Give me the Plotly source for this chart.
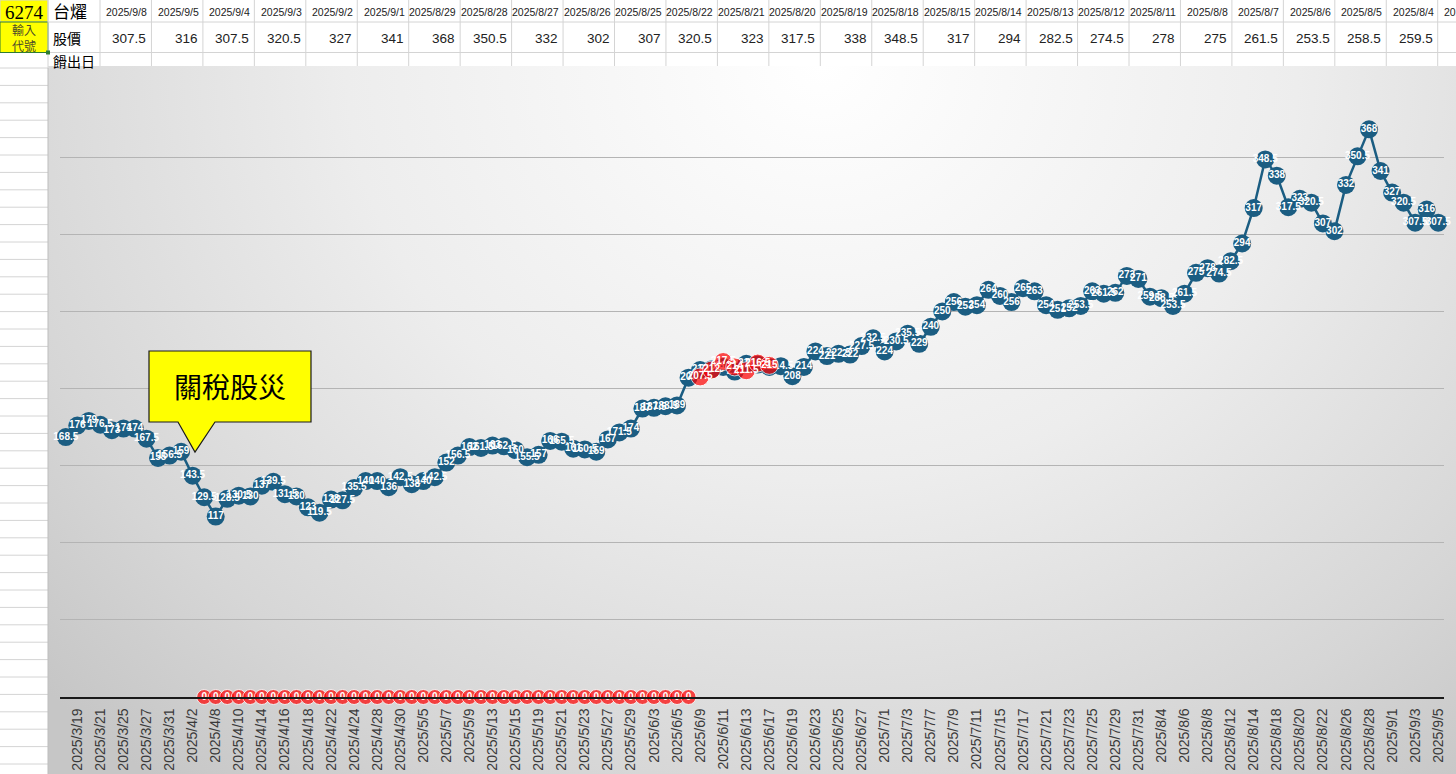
import plotly.graph_objects as go

W, H = 1456, 774

# chart categories (trading days, shown every other one)
dates = [
    "2025/3/18", "2025/3/19", "2025/3/20", "2025/3/21", "2025/3/24", "2025/3/25", "2025/3/26",
    "2025/3/27", "2025/3/28", "2025/3/31",
    "2025/4/1", "2025/4/2", "2025/4/7", "2025/4/8", "2025/4/9", "2025/4/10", "2025/4/11",
    "2025/4/14", "2025/4/15", "2025/4/16", "2025/4/17", "2025/4/18", "2025/4/21", "2025/4/22",
    "2025/4/23", "2025/4/24", "2025/4/25", "2025/4/28", "2025/4/29", "2025/4/30",
    "2025/5/2", "2025/5/5", "2025/5/6", "2025/5/7", "2025/5/8", "2025/5/9", "2025/5/12",
    "2025/5/13", "2025/5/14", "2025/5/15", "2025/5/16", "2025/5/19", "2025/5/20", "2025/5/21",
    "2025/5/22", "2025/5/23", "2025/5/26", "2025/5/27", "2025/5/28", "2025/5/29",
    "2025/6/2", "2025/6/3", "2025/6/4", "2025/6/5", "2025/6/6", "2025/6/9", "2025/6/10",
    "2025/6/11", "2025/6/12", "2025/6/13", "2025/6/16", "2025/6/17", "2025/6/18", "2025/6/19",
    "2025/6/20", "2025/6/23", "2025/6/24", "2025/6/25", "2025/6/26", "2025/6/27", "2025/6/30",
    "2025/7/1", "2025/7/2", "2025/7/3", "2025/7/4", "2025/7/7", "2025/7/8", "2025/7/9",
    "2025/7/10", "2025/7/11", "2025/7/14", "2025/7/15", "2025/7/16", "2025/7/17", "2025/7/18",
    "2025/7/21", "2025/7/22", "2025/7/23", "2025/7/24", "2025/7/25", "2025/7/28", "2025/7/29",
    "2025/7/30", "2025/7/31",
    "2025/8/1", "2025/8/4", "2025/8/5", "2025/8/6", "2025/8/7", "2025/8/8", "2025/8/11",
    "2025/8/12", "2025/8/13", "2025/8/14", "2025/8/15", "2025/8/18", "2025/8/19", "2025/8/20",
    "2025/8/21", "2025/8/22", "2025/8/25", "2025/8/26", "2025/8/27", "2025/8/28", "2025/8/29",
    "2025/9/1", "2025/9/2", "2025/9/3", "2025/9/4", "2025/9/5",
]

# closing price (blue line)
price = [
    168.5, 176, 179, 176.5, 173, 174, 174, 167.5, 155, 156.5,
    159, 143.5, 129.5, 117, 128.5, 130.5, 130, 137, 139.5, 131.5,
    130, 123, 119.5, 128, 127.5, 135.5, 140, 140, 136, 142.5,
    138, 140, 142.5, 152, 156.5, 162, 161.5, 163, 162.5, 160,
    155.5, 157, 166, 165.5, 161, 160.5, 159, 167, 171.5, 174,
    187, 187.5, 188.5, 189, 207, 212, 212.5, 214, 211, 216,
    215.5, 214, 214.5, 208, 214, 224, 221, 222.5, 222, 227.5,
    232.5, 224, 230.5, 235.5, 229, 240, 250, 256, 253, 254,
    264, 260, 256, 265, 263, 254, 251, 252, 253.5, 263,
    261.5, 262, 273, 271, 259.5, 258.5, 253.5, 261.5, 275, 278,
    274.5, 282.5, 294, 317, 348.5, 338, 317.5, 323, 320.5, 307,
    302, 332, 350.5, 368, 341, 327, 320.5, 307.5, 316, 307.5,
]

# red series: zero markers then a short run of prices
red = [None] * 12 + [0] * 43 + [207.5, 212, 217.5, 214, 211.5, 216.5, 215] + [None] * 58

# sheet table at the top
table_dates = ["2025/9/8", "2025/9/5", "2025/9/4", "2025/9/3", "2025/9/2", "2025/9/1", "2025/8/29",
               "2025/8/28", "2025/8/27", "2025/8/26", "2025/8/25", "2025/8/22", "2025/8/21",
               "2025/8/20", "2025/8/19", "2025/8/18", "2025/8/15", "2025/8/14", "2025/8/13",
               "2025/8/12", "2025/8/11", "2025/8/8", "2025/8/7", "2025/8/6", "2025/8/5",
               "2025/8/4", "2025/8/1"]
table_prices = [307.5, 316, 307.5, 320.5, 327, 341, 368, 350.5, 332, 302, 307, 320.5, 323,
                317.5, 338, 348.5, 317, 294, 282.5, 274.5, 278, 275, 261.5, 253.5, 258.5,
                259.5, 271]


def px(x):
    return x / W


def py(y):
    return 1 - y / H


BLUE = "#1B5D82"
RED = "#FF0000"

fig = go.Figure()

# radial grey background of the chart object
fig.add_trace(go.Scatter(
    x=[-0.2, 1.3, 1.3, -0.2], y=[-0.3, -0.3, 2.3, 2.3],
    fill="toself", mode="none", hoverinfo="skip", showlegend=False,
    fillgradient=dict(type="radial",
                      colorscale=[[0, "#ffffff"], [0.45, "#ededed"], [0.8, "#d6d6d6"], [1, "#c6c6c6"]]),
    xaxis="x", yaxis="y",
))

fig.add_trace(go.Scatter(
    x=dates, y=price, mode="lines+markers+text",
    line=dict(color=BLUE, width=2.5),
    marker=dict(color=BLUE, size=18),
    text=[f"{v:g}" for v in price], textposition="middle center",
    textfont=dict(color="white", size=10, family="Liberation Sans", weight="bold"),
    cliponaxis=False, showlegend=False, xaxis="x2", yaxis="y2",
))

fig.add_trace(go.Scatter(
    x=dates, y=red, mode="markers+text",
    marker=dict(color=RED, size=[15 if v == 0 else 18 for v in red]),
    text=["" if v is None else f"{v:g}" for v in red], textposition="middle center",
    textfont=dict(color="white", size=10, family="Liberation Sans", weight="bold"),
    cliponaxis=False, showlegend=False, xaxis="x2", yaxis="y2",
))

fig.update_layout(
    width=W, height=H, margin=dict(l=0, r=0, t=0, b=0),
    paper_bgcolor="white", plot_bgcolor="rgba(0,0,0,0)",
    xaxis=dict(domain=[px(48), 1], range=[0, 1], visible=False, fixedrange=True),
    yaxis=dict(domain=[0, py(66)], range=[0, 1], visible=False, fixedrange=True),
    xaxis2=dict(domain=[px(60), px(1444)], anchor="y2", type="category",
                categoryorder="array", categoryarray=dates, range=[-0.5, len(dates) - 0.5],
                tickmode="array", tickvals=dates[1::2], ticktext=dates[1::2],
                tickangle=-90, ticks="", ticklabelstandoff=4,
                tickfont=dict(family="Liberation Sans", size=14, color="#3a3a3a"),
                showgrid=False, showline=True, linecolor="#1a1a1a", linewidth=1.5,
                automargin=False),
    yaxis2=dict(domain=[py(697), py(80)], anchor="x2", range=[0, 400], dtick=50,
                showgrid=True, gridcolor="#b4b4b4", gridwidth=1.2,
                showticklabels=False, zeroline=False, automargin=False),
)

shapes = []
annotations = []
grid = dict(color="#d4d4d4", width=1)


def note(text, x, y, size, xanchor="center", family="Liberation Sans", color="black"):
    annotations.append(dict(text=text, x=px(x), y=py(y), xref="paper", yref="paper", showarrow=False,
                            xanchor=xanchor, yanchor="middle",
                            font=dict(family=family, size=size, color=color)))


# yellow input cells
shapes.append(dict(type="rect", xref="paper", yref="paper", x0=px(0), x1=px(48), y0=py(22), y1=py(0),
                   fillcolor="#FFFF00", line=dict(color="#d4d4d4", width=1), layer="below"))
shapes.append(dict(type="rect", xref="paper", yref="paper", x0=px(0), x1=px(48), y0=py(52.5), y1=py(22),
                   fillcolor="#FFFF00", line=dict(color="#2f7d32", width=1), layer="below"))
shapes.append(dict(type="rect", xref="paper", yref="paper", x0=px(46), x1=px(50), y0=py(54.5), y1=py(50.5),
                   fillcolor="#2f7d32", line=dict(width=0)))

# sheet grid lines
shapes.append(dict(type="line", xref="paper", yref="paper", x0=px(48), x1=1, y0=py(22), y1=py(22), line=grid, layer="below"))
shapes.append(dict(type="line", xref="paper", yref="paper", x0=px(48), x1=1, y0=py(52.5), y1=py(52.5), line=grid, layer="below"))
col_x = [48, 100] + [100 + 51.45 * k for k in range(1, 28)]
for cx in col_x:
    shapes.append(dict(type="line", xref="paper", yref="paper", x0=px(cx), x1=px(cx), y0=py(0), y1=py(68),
                       line=grid, layer="below"))
ry = 68
while ry < H:
    shapes.append(dict(type="line", xref="paper", yref="paper", x0=0, x1=px(48), y0=py(ry), y1=py(ry),
                       line=grid, layer="below"))
    ry += 17.4
shapes.append(dict(type="line", xref="paper", yref="paper", x0=px(48), x1=px(48), y0=0, y1=py(68),
                   line=dict(color="#bdbdbd", width=1)))

# sheet texts
note("6274", 24, 12, 19, family="Liberation Serif")
note("輸入<br>代號", 24, 37, 12, family="Noto Sans CJK TC", color="#4a4a2a")
note("台燿", 51, 11, 17, xanchor="left", family="Noto Sans CJK TC")
note("股價", 51, 38, 14, xanchor="left", family="Noto Sans CJK TC")
note("餶出日", 51, 61, 14, xanchor="left", family="Noto Sans CJK TC")
for k, d in enumerate(table_dates):
    note(d, 100 + 51.45 * (k + 1) - 2, 12, 10.5, xanchor="right", color="#222")
for k, v in enumerate(table_prices):
    note(f"{v:g}", 100 + 51.45 * (k + 1) - 3, 38, 13.5, xanchor="right", color="#222")

# callout
callout = (f"M {px(149)},{py(351)} L {px(311)},{py(351)} L {px(311)},{py(422)} "
           f"L {px(215)},{py(422)} L {px(195)},{py(452)} L {px(178)},{py(422)} "
           f"L {px(149)},{py(422)} Z")
shapes.append(dict(type="path", xref="paper", yref="paper", path=callout,
                   fillcolor="#FFFF00", line=dict(color="#1a1a1a", width=1.2)))
note("關稅股災", 230, 386, 28, family="Noto Sans CJK TC")

fig.update_layout(shapes=shapes, annotations=annotations)

fig.write_html("out.html", config={"displayModeBar": False},
               post_script="document.body.style.margin='0';")
